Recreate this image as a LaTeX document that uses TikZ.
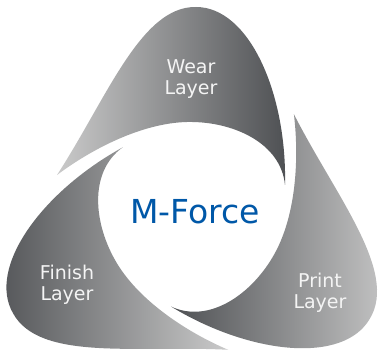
\documentclass[tikz,border=0pt]{standalone}
\usepackage{fontspec}
\setmainfont{DejaVu Sans}
\definecolor{mblue}{RGB}{0,88,168}
\definecolor{labelwhite}{RGB}{244,244,244}
\definecolor{leaflight}{RGB}{202,202,202}
\definecolor{leafdark}{RGB}{78,80,83}
\tikzset{
  leaflabel/.style={text=labelwhite, font=\fontsize{19}{21}\selectfont, align=center, inner sep=0pt},
  hubtext/.style={text=mblue, font=\fontsize{33}{36}\selectfont, inner sep=0pt}
}
\newcommand\leafcoords[2]{%
 \begin{scope}[shift={(193,213)},rotate=#2]
  \coordinate (#1L) at (-136,-38);
  \coordinate (#1a) at (-86,-115);
  \coordinate (#1b) at (-52,-207);
  \coordinate (#1T) at (3,-206);
  \coordinate (#1c) at (56,-206);
  \coordinate (#1d) at (94,-120);
  \coordinate (#1R) at (92,-28);
  \coordinate (#1e) at (88,-70);
  \coordinate (#1f) at (40,-92);
  \coordinate (#1M) at (-6,-91);
  \coordinate (#1g) at (-50,-90);
  \coordinate (#1h) at (-100,-65);
 \end{scope}}
\newcommand\leafpath[1]{(#1L) .. controls (#1a) and (#1b) .. (#1T) .. controls (#1c) and (#1d) .. (#1R) .. controls (#1e) and (#1f) .. (#1M) .. controls (#1g) and (#1h) .. cycle}
\begin{document}
\begin{tikzpicture}[x=1pt,y=-1pt]
\fill[white] (0,0) rectangle (382,352);
\useasboundingbox (0,0) rectangle (382,352);
\leafcoords{w}{0}
\leafcoords{p}{-120}
\leafcoords{f}{120}
\shade[left color=leaflight, right color=leafdark] \leafpath{w};
\shade[left color=leafdark, right color=leaflight] \leafpath{p};
\shade[left color=leafdark, right color=leaflight] \leafpath{f};
\node[leaflabel] (wear) at (191,79) {Wear\\Layer};
\node[leaflabel] (finish) at (67,285) {Finish\\Layer};
\node[leaflabel] (print) at (320,293) {Print\\Layer};
\node[hubtext] (mforce) at (195,212) {M-Force};
\end{tikzpicture}
\end{document}
